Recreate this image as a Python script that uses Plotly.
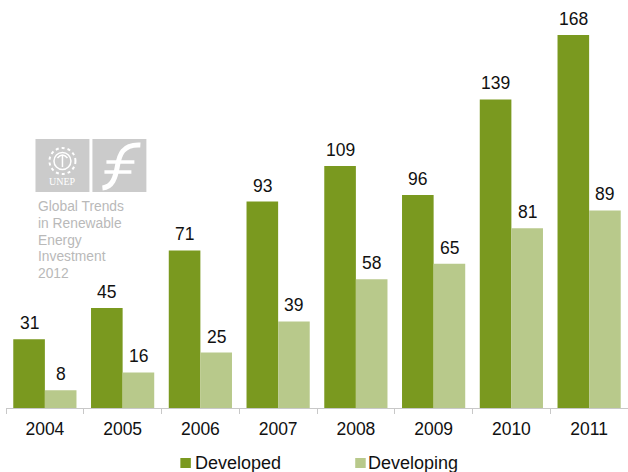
import plotly.graph_objects as go

years = ["2004", "2005", "2006", "2007", "2008", "2009", "2010", "2011"]
developed = [31, 45, 71, 93, 109, 96, 139, 168]
developing = [8, 16, 25, 39, 58, 65, 81, 89]
series_names = ["Developed", "Developing"]
report_lines = ["Global Trends", "in Renewable", "Energy", "Investment", "2012"]

GREEN = "#7a991f"
PALE = "#b8c98b"
LOGO_GREY = "#cbcbcb"
FONT = "Liberation Sans, Arial, sans-serif"

W, H = 628, 472
LEFT, RIGHT, TOP, BOTTOM = 5.5, 0, 10, 64
PLOT_W, PLOT_H = W - LEFT - RIGHT, H - TOP - BOTTOM


def fx(px):
    return (px - LEFT) / PLOT_W


def fy(py):
    return (H - BOTTOM - py) / PLOT_H


def box(x0, y0, x1, y1, **style):
    return dict(type="rect", xref="paper", yref="paper",
                x0=fx(x0), y0=fy(y0), x1=fx(x1), y1=fy(y1), layer="above", **style)


def ring(cx, cy, r, **style):
    return dict(type="circle", xref="paper", yref="paper",
                x0=fx(cx - r), y0=fy(cy - r), x1=fx(cx + r), y1=fy(cy + r),
                layer="above", **style)


def stroke(segments, **style):
    # segments: (command, [(x, y), ...]) in page pixels
    parts = []
    for cmd, pts in segments:
        parts.append(cmd + " ".join(f"{fx(a)},{fy(b)}" for a, b in pts))
    return dict(type="path", xref="paper", yref="paper", layer="above",
                path=" ".join(parts), **style)


fig = go.Figure()
fig.add_bar(name=series_names[0], x=years, y=developed, marker_color=GREEN, marker_line_width=0)
fig.add_bar(name=series_names[1], x=years, y=developing, marker_color=PALE, marker_line_width=0)

# Value labels sit a little higher above the bars than the default outside text.
# Category axes place annotations by serial number, so use the year's index.
annotations = []
for series, shift in ((developed, -15.8), (developing, 15.8)):
    for idx, value in enumerate(series):
        annotations.append(dict(xref="x", yref="y", x=idx, y=value, text=str(value),
                                showarrow=False, xshift=shift, yshift=4, yanchor="bottom",
                                font=dict(size=17.5, color="#111111", family=FONT)))

# Report caption beneath the logos
for i, line in enumerate(report_lines):
    annotations.append(dict(xref="paper", yref="paper", x=fx(38), y=fy(206.5 + i * 16.8),
                            text=line, showarrow=False, xanchor="left", yanchor="middle",
                            xshift=-2,
                            font=dict(size=13.8, color="#b9b9b9", family=FONT)))
annotations.append(dict(xref="paper", yref="paper", x=fx(62), y=fy(181), text="UNEP",
                        showarrow=False, xanchor="center", yanchor="middle",
                        font=dict(size=10, color="white", family="Liberation Serif, serif")))

shapes = [
    box(35, 139, 89, 192, fillcolor=LOGO_GREY, line_width=0),
    box(92, 139, 146, 192, fillcolor=LOGO_GREY, line_width=0),
    # Wreath emblem
    ring(62, 161, 13, line=dict(color="white", width=2, dash="dot")),
    ring(62, 161, 8.5, line=dict(color="white", width=1.5)),
    stroke([("M", [(62, 155)]), ("L", [(62, 167)])], line=dict(color="white", width=1.5)),
    stroke([("M", [(57, 158)]), ("Q", [(62, 152), (67, 158)])], line=dict(color="white", width=1.5)),
    # Finance initiative mark
    stroke([("M", [(140, 145)]), ("C", [(122, 144), (119, 155), (117, 166)]),
            ("C", [(115, 178), (112, 187), (102, 188)])],
           line=dict(color="white", width=5)),
    stroke([("M", [(106, 162)]), ("L", [(134, 162)])], line=dict(color="white", width=3.5)),
    stroke([("M", [(104, 172)]), ("L", [(131, 172)])], line=dict(color="white", width=3.5)),
]

# Legend row: small squares set close to their names
for name, colour, swatch_x, text_x in ((series_names[0], GREEN, 180, 195), (series_names[1], PALE, 355, 368)):
    shapes.append(box(swatch_x, 458, swatch_x + 10.5, 468, fillcolor=colour, line_width=0))
    annotations.append(dict(xref="paper", yref="paper", x=fx(text_x), y=fy(463), text=name,
                            showarrow=False, xanchor="left", yanchor="middle", xshift=-2,
                            font=dict(size=18, color="#111111", family=FONT)))

fig.update_layout(
    width=W, height=H,
    margin=dict(l=LEFT, r=RIGHT, t=TOP, b=BOTTOM, autoexpand=False),
    paper_bgcolor="white", plot_bgcolor="white",
    barmode="group", bargap=0.187, bargroupgap=0, showlegend=False,
    font=dict(family=FONT, color="#111111"),
    annotations=annotations, shapes=shapes,
    xaxis=dict(type="category", range=[-0.5, 7.5], tickson="boundaries", ticks="outside",
               ticklen=5, tickcolor="#c8c8c8", tickwidth=1, showline=True, linecolor="#c8c8c8",
               linewidth=1, showgrid=False, automargin=False, ticklabelstandoff=5,
               tickfont=dict(size=17.5, color="#111111")),
    yaxis=dict(range=[0, 179.3], visible=False, showgrid=False, zeroline=False),
)

fig.write_html("out.html")
